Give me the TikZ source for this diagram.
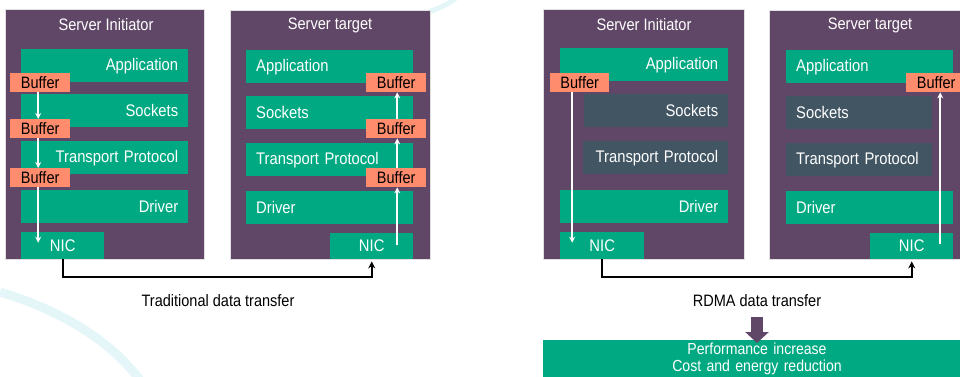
\documentclass[tikz,border=0pt]{standalone}
\usepackage{fontspec}
\setmainfont{Liberation Sans}[FakeStretch=0.88]
\usepackage{xcolor}
\usepackage{tikz}
\usetikzlibrary{arrows.meta}

\definecolor{srvpurple}{RGB}{97,71,103}
\definecolor{hpegreen}{RGB}{1,169,130}
\definecolor{bufcol}{RGB}{255,141,109}
\definecolor{skipcol}{RGB}{66,85,99}
\definecolor{swoosh}{RGB}{228,246,248}

\begin{document}
\begin{tikzpicture}[
  x=1pt, y=-1pt,
  server/.style={draw=black!12, line width=0.8pt, fill=srvpurple, anchor=north west, inner sep=0pt},
  title/.style={text=white, font=\fontsize{16.6}{18}\selectfont},
  layer/.style={fill=hpegreen, text=white, anchor=north west, inner xsep=10pt, inner ysep=0pt,
                minimum height=33pt, font=\fontsize{16.8}{18}\selectfont},
  bypass/.style={layer, fill=skipcol},
  nic/.style={layer, align=center, minimum height=27pt, minimum width=83pt},
  buffer/.style={fill=bufcol, text=black, anchor=north west, inner sep=0pt,
                 minimum width=60pt, minimum height=19pt, font=\fontsize{16.5}{18}\selectfont},
  flow/.style={white, line width=1.8pt, -{Stealth[width=6pt,length=6pt]}},
  link/.style={black, line width=2pt, -{Stealth[width=7pt,length=7pt]}, shorten >=2pt},
  caption/.style={text=black, font=\fontsize{16.5}{18}\selectfont},
  result/.style={fill=hpegreen, text=white, anchor=north, inner xsep=10pt, inner ysep=3pt,
                 text width=408pt, align=center, font=\fontsize{16}{16.5}\selectfont},
  bigarrow/.style={srvpurple, line width=12pt, -{Triangle[width=23pt,length=11pt]}}
]
\useasboundingbox (0,0) rectangle (960,376);
\clip (0,0) rectangle (960,376);

% faint background swooshes
\draw[swoosh, line width=9pt] (0,292) .. controls (60,310) and (110,340) .. (140,380);
\draw[swoosh, line width=5pt] (420,15) .. controls (435,10) and (448,5) .. (456,-2);

% traditional: initiator
\node[server, minimum width=199pt, minimum height=250pt] (srvA) at (5,9) {};
\node[title] (tA) at (106,25) {Server Initiator};
\node[layer, text width=147pt, align=right] (appA) at (21,49) {Application};
\node[layer, text width=147pt, align=right] (sockA) at (21,94) {Sockets};
\node[layer, text width=147pt, align=right] (transA) at (21,141) {Transport Protocol};
\node[layer, text width=147pt, align=right] (drvA) at (21,190) {Driver};
\node[nic] (nicA) at (21,232) {NIC};
\node[buffer] (bufA1) at (10,73) {Buffer};
\node[buffer] (bufA2) at (10,119) {Buffer};
\node[buffer] (bufA3) at (10,168) {Buffer};

% traditional: target
\node[server, minimum width=200pt, minimum height=249pt] (srvB) at (230,10) {};
\node[title] (tB) at (330,25) {Server target};
\node[layer, text width=147pt, align=left] (appB) at (246,50) {Application};
\node[layer, text width=147pt, align=left] (sockB) at (246,96) {Sockets};
\node[layer, text width=147pt, align=left] (transB) at (246,143) {Transport Protocol};
\node[layer, text width=147pt, align=left] (drvB) at (246,191) {Driver};
\node[nic, minimum height=26pt] (nicB) at (330,233) {NIC};
\node[buffer] (bufB1) at (366,73) {Buffer};
\node[buffer] (bufB2) at (366,119) {Buffer};
\node[buffer] (bufB3) at (366,168) {Buffer};

% rdma: initiator
\node[server, minimum width=201pt, minimum height=250pt] (srvC) at (543,9) {};
\node[title] (tC) at (644,25) {Server Initiator};
\node[layer, text width=148pt, align=right] (appC) at (560,48) {Application};
\node[bypass, text width=124pt, align=right] (sockC) at (584,94) {Sockets};
\node[bypass, text width=125pt, align=right] (transC) at (583,141) {Transport Protocol};
\node[layer, text width=148pt, align=right] (drvC) at (560,190) {Driver};
\node[nic, minimum width=84pt] (nicC) at (560,232) {NIC};
\node[buffer, minimum width=59pt] (bufC) at (550,73) {Buffer};

% rdma: target
\node[server, minimum width=200pt, minimum height=249pt] (srvD) at (769,10) {};
\node[title] (tD) at (870,25) {Server target};
\node[layer, text width=147pt, align=left] (appD) at (786,50) {Application};
\node[bypass, text width=126pt, align=left] (sockD) at (786,96) {Sockets};
\node[bypass, text width=126pt, align=left] (transD) at (786,143) {Transport Protocol};
\node[layer, text width=147pt, align=left] (drvD) at (786,191) {Driver};
\node[nic, minimum height=26pt] (nicD) at (870,233) {NIC};
\node[buffer] (bufD) at (906,73) {Buffer};

% copies through the stack
\draw[flow] ([xshift=-2pt]bufA1.south) -- ([xshift=-2pt]bufA2.north);
\draw[flow] ([xshift=-2pt]bufA2.south) -- ([xshift=-2pt]bufA3.north);
\draw[flow] ([xshift=-2pt]bufA3.south) -- ([xshift=-2pt,yshift=3pt]bufA3.south |- nicA.center);
\draw[flow] ([xshift=1pt,yshift=1pt]bufB3.south |- nicB.center) -- ([xshift=1pt]bufB3.south);
\draw[flow] ([xshift=1pt]bufB3.north) -- ([xshift=1pt]bufB2.south);
\draw[flow] ([xshift=1pt]bufB2.north) -- ([xshift=1pt]bufB1.south);
\draw[flow] ([xshift=-7.5pt]bufC.south) -- ([xshift=-7.5pt,yshift=3pt]bufC.south |- nicC.center);
\draw[flow] ([xshift=4pt,yshift=2pt]bufD.south |- nicD.center) -- ([xshift=4pt]bufD.south);

% network links
\draw[link] (nicA.south) -- ++(0,18) -| (nicB.south);
\draw[link] (nicC.south) -- ++(0,18) -| (nicD.south);
\node[caption] (capA) at (218,301) {Traditional data transfer};
\node[caption] (capC) at (757,301) {RDMA data transfer};

% outcome
\node[result] (gain) at (757,340) {Performance increase\\Cost and energy reduction};
\draw[bigarrow] ([yshift=-6pt]capC.south) -- ([yshift=-3pt]gain.north);
\end{tikzpicture}
\end{document}
